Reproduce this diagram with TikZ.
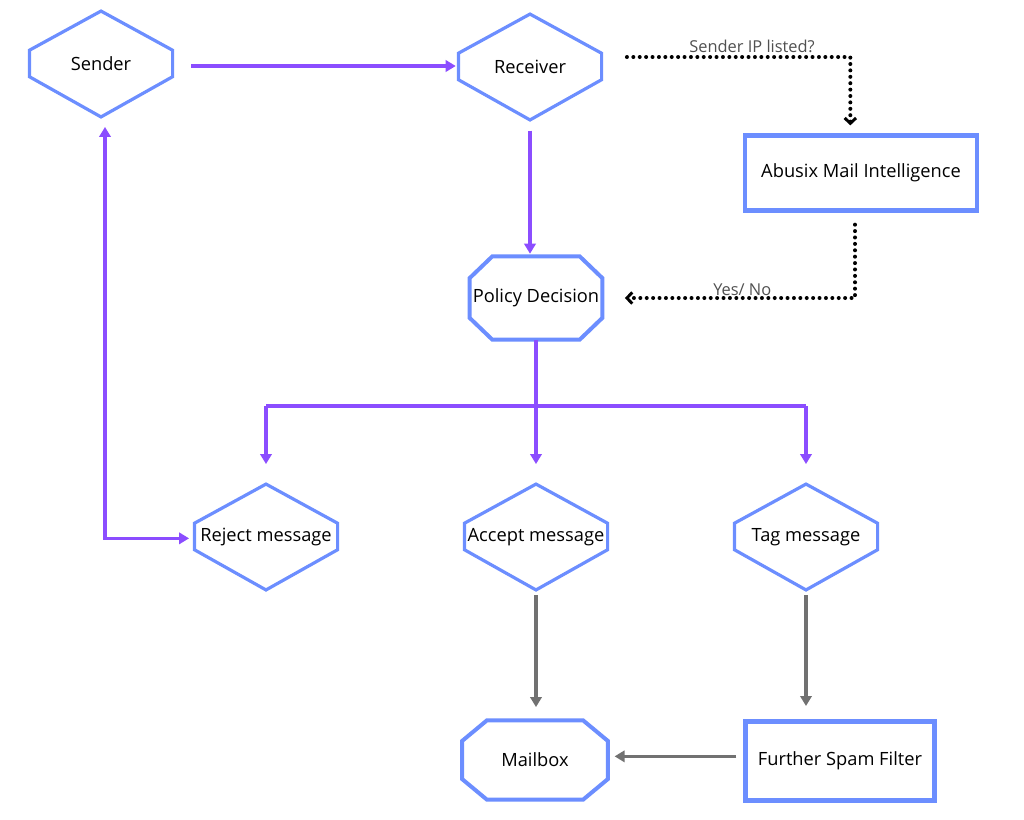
\documentclass[tikz,border=0pt]{standalone}
\usepackage{fontspec}
\setmainfont{Open Sans}
\usetikzlibrary{arrows.meta,calc}
\definecolor{boxblue}{HTML}{6C8EFF}
\definecolor{flowpurple}{HTML}{8B4DFF}
\definecolor{flowgray}{HTML}{717171}
\definecolor{notegray}{HTML}{505050}
\tikzset{
  shapetext/.style={inner sep=0pt, align=center, font=\fontsize{13.7}{16}\selectfont},
  hexa/.style={shapetext, minimum width=107pt, minimum height=79pt},
  octa/.style={shapetext, minimum width=#1, minimum height=62pt},
  box/.style={shapetext, draw=boxblue, line width=3.5pt, minimum width=#1, minimum height=56pt},
  outline/.style={draw=boxblue, line width=2.4pt, line join=miter},
  flow/.style={draw=flowpurple, line width=2.4pt, -{Triangle[length=7.5pt,width=8.5pt]}},
  back/.style={draw=flowgray, line width=2.4pt, -{Triangle[length=7.5pt,width=8.5pt]}},
  dotline/.style={black, line width=3pt, line cap=round, dash pattern=on 0pt off 4.8pt,
    -{Straight Barb[length=4pt,width=8.5pt,line width=2.2pt]}},
  note/.style={text=notegray, inner sep=2pt, font=\fontsize{12.3}{14}\selectfont}
}
\begin{document}
\begin{tikzpicture}[x=0.75pt,y=0.75pt,yscale=-1]
\useasboundingbox (0,0) rectangle (1024,819);

% Text Node
\node[hexa] (snd) at (101,64) {Sender};
% Text Node
\node[hexa] (rcv) at (530,67) {Receiver};
% Text Node
\node[box=174pt] (abx) at (861,173) {Abusix Mail Intelligence};
% Text Node
\node[octa=99pt] (pol) at (536,298) {Policy Decision};
% Text Node
\node[hexa] (rej) at (266,537) {Reject message};
% Text Node
\node[hexa] (acc) at (536,537) {Accept message};
% Text Node
\node[hexa] (tag) at (806,537) {Tag message};
% Text Node
\node[octa=109pt, minimum height=59pt] (mbx) at (535,760) {Mailbox};
% Text Node
\node[box=142pt, minimum height=59pt] (flt) at (840,761) {Further Spam Filter};

%Shape: Hexagon
\foreach \n in {snd,rcv,rej,acc,tag}
  \draw[outline] (\n.north) -- ($(\n.north east)!.37!(\n.south east)$) -- ($(\n.north east)!.62!(\n.south east)$)
    -- (\n.south) -- ($(\n.north west)!.62!(\n.south west)$) -- ($(\n.north west)!.37!(\n.south west)$) -- cycle;

%Shape: Octagon
\foreach \n in {pol,mbx}
  \draw[outline, line width=3pt] ($(\n.north west)!.17!(\n.north east)$) -- ($(\n.north east)!.17!(\n.north west)$)
    -- ($(\n.north east)!.26!(\n.south east)$) -- ($(\n.south east)!.26!(\n.north east)$)
    -- ($(\n.south east)!.17!(\n.south west)$) -- ($(\n.south west)!.17!(\n.south east)$)
    -- ($(\n.south west)!.26!(\n.north west)$) -- ($(\n.north west)!.26!(\n.south west)$) -- cycle;

%Straight Lines
\draw[flow] ([xshift=14pt,yshift=1.5pt]snd.east) -- ([xshift=-2pt,yshift=1.5pt]snd.east -| rcv.west);
\draw[flow] ([yshift=8pt]rcv.south) -- ([yshift=-2pt]rcv.south |- pol.north);

%Dotted Lines
\draw[dotline] ([xshift=19pt,yshift=-7.5pt]rcv.east) -| node[note, pos=.28, above] {Sender IP listed?} ([xshift=-8pt,yshift=-6pt]abx.north);
\draw[dotline] ([xshift=-4.5pt,yshift=9pt]abx.south) |- node[note, pos=.745, above, inner sep=0pt] {Yes/ No} ([xshift=17pt]pol.east);

%Branch
\coordinate (split) at (536,406);
\draw[flowpurple, line width=2.4pt] (pol.south) -- (split);
\draw[flowpurple, line width=3.6pt] (rej.north |- split) -- (tag.north |- split);
\foreach \n in {rej,acc,tag}
  \draw[flow] (\n.north |- split) -- ([yshift=-15pt]\n.north);

%Back to sender
\draw[flow, {Triangle[length=7.5pt,width=8.5pt]}-{Triangle[length=7.5pt,width=8.5pt]}]
  ([xshift=3pt,yshift=7.5pt]snd.south) |- ([xshift=-4pt,yshift=1pt]rej.west);

%Gray Lines
\draw[back] ([yshift=4pt]acc.south) -- ([yshift=-10pt]acc.south |- mbx.north);
\draw[back] ([yshift=4pt]tag.south) -- ([yshift=-10pt]tag.south |- flt.north);
\draw[back] ([xshift=-5pt,yshift=-3.5pt]flt.west) -- ([xshift=5pt,yshift=-3.5pt]flt.west -| mbx.east);

\end{tikzpicture}
\end{document}
